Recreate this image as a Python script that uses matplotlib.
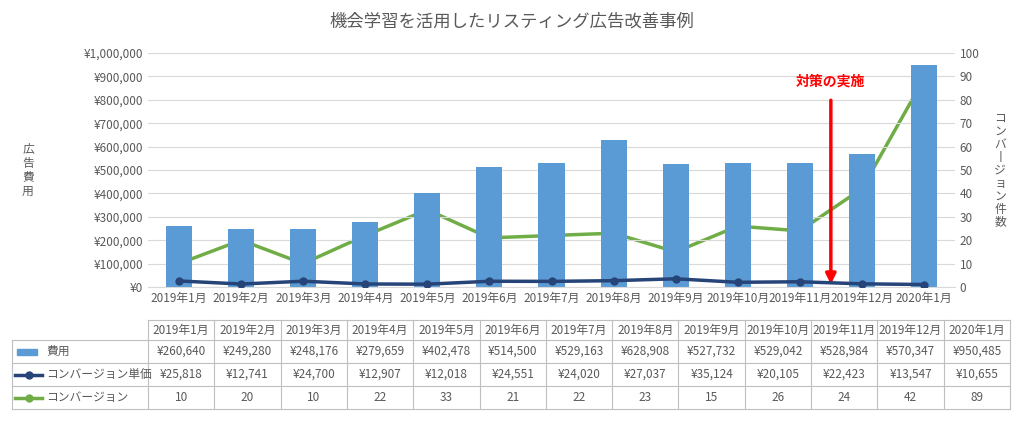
import matplotlib
matplotlib.use("Agg")
import matplotlib.pyplot as plt
from matplotlib.lines import Line2D
from matplotlib.patches import Rectangle

plt.rcParams['font.family'] = 'Noto Sans CJK JP'

months = ["2019年1月","2019年2月","2019年3月","2019年4月","2019年5月","2019年6月","2019年7月",
          "2019年8月","2019年9月","2019年10月","2019年11月","2019年12月","2020年1月"]
cost = [260640,249280,248176,279659,402478,514500,529163,628908,527732,529042,528984,570347,950485]
unit = [25818,12741,24700,12907,12018,24551,24020,27037,35124,20105,22423,13547,10655]
conv = [10,20,10,22,33,21,22,23,15,26,24,42,89]

W, H = 1024, 424
fig = plt.figure(figsize=(W/100, H/100), dpi=100)
def fx(p): return p/W
def fy(p): return 1-p/H

blue = '#5b9bd5'; navy = '#264478'; green = '#70ad47'; grey = '#595959'
ax = fig.add_axes([fx(148), fy(287), fx(955-148), fy(53)-fy(287)])
x = list(range(len(months)))
ax.bar(x, cost, width=0.42, color=blue, zorder=2)
ax.plot(x, unit, color=navy, lw=2.5, marker='o', ms=5, zorder=4)
ax.set_xlim(-0.5, 12.5); ax.set_ylim(0, 1000000)
ax.set_yticks(range(0, 1000001, 100000))
ax.set_yticklabels([f"¥{v:,}" for v in range(0, 1000001, 100000)], fontsize=8.5, color=grey)
ax.set_xticks(x); ax.set_xticklabels(months, fontsize=8.5, color=grey)
ax.tick_params(length=0)
ax.grid(axis='y', color='#d9d9d9', lw=0.8, zorder=0)
for s in ['top','right','left']: ax.spines[s].set_visible(False)
ax.spines['bottom'].set_color('#d9d9d9')
ax2 = ax.twinx()
ax2.plot(x, conv, color=green, lw=2.5, marker='o', ms=5, zorder=3)
ax2.set_ylim(0, 100); ax2.set_yticks(range(0, 101, 10))
ax2.tick_params(length=0, labelsize=8.5, labelcolor=grey)
for s in ax2.spines.values(): s.set_visible(False)
ax.set_zorder(ax2.get_zorder()+1); ax.patch.set_visible(False)

ax.annotate("", xy=(10.5, 0), xytext=(10.5, 810000),
            arrowprops=dict(arrowstyle='-|>', color='red', lw=2.5, mutation_scale=15))
ax.text(10.5, 850000, "対策の実施", color='red', fontsize=10, fontweight='bold', ha='center', va='bottom')

fig.text(0.5, fy(22), "機会学習を活用したリスティング広告改善事例", ha='center', va='center', fontsize=12.5, color=grey)
fig.text(fx(28), fy(170), "広\n告\n費\n用", ha='center', va='center', fontsize=8.5, color=grey, linespacing=1.1)
fig.text(fx(1000), fy(170), "コ\nン\nバ\n丨\nジ\nョ\nン\n件\n数", ha='center', va='center', fontsize=8.5, color=grey, linespacing=1.0)

# table
x0, x1, xe = 12, 148, 1010
cw = (xe-x1)/13
rows = [320, 340, 363, 386, 409]
lc = '#bfbfbf'
for r in rows[1:]:
    fig.add_artist(Line2D([fx(x0), fx(xe)], [fy(r), fy(r)], color=lc, lw=0.8))
fig.add_artist(Line2D([fx(x1), fx(xe)], [fy(rows[0]), fy(rows[0])], color=lc, lw=0.8))
fig.add_artist(Line2D([fx(x0), fx(x0)], [fy(rows[1]), fy(rows[-1])], color=lc, lw=0.8))
for i in range(14):
    xx = x1 + i*cw
    fig.add_artist(Line2D([fx(xx), fx(xx)], [fy(rows[0]), fy(rows[-1])], color=lc, lw=0.8))
rowsdata = [months, [f"¥{v:,}" for v in cost], [f"¥{v:,}" for v in unit], [str(v) for v in conv]]
for ri, data in enumerate(rowsdata):
    yc = (rows[ri]+rows[ri+1])/2
    for ci, t in enumerate(data):
        fig.text(fx(x1 + (ci+0.5)*cw), fy(yc), t, ha='center', va='center', fontsize=8.5, color=grey)
names = ["費用", "コンバージョン単価", "コンバージョン"]
for k, n in enumerate(names):
    yc = (rows[k+1]+rows[k+2])/2
    if k == 0:
        fig.add_artist(Rectangle((fx(17), fy(yc+3)), fx(20), fy(yc-3)-fy(yc+3), color=blue))
    else:
        c = navy if k == 1 else green
        fig.add_artist(Line2D([fx(15), fx(42)], [fy(yc), fy(yc)], color=c, lw=2.5, marker='o', ms=5, markevery=[1]) if False else
                       Line2D([fx(15), fx(28.5), fx(42)], [fy(yc)]*3, color=c, lw=2.5, marker='o', ms=5, markevery=[1]))
    fig.text(fx(46), fy(yc), n, ha='left', va='center', fontsize=8.5, color=grey)

fig.savefig("out.png", dpi=100)
